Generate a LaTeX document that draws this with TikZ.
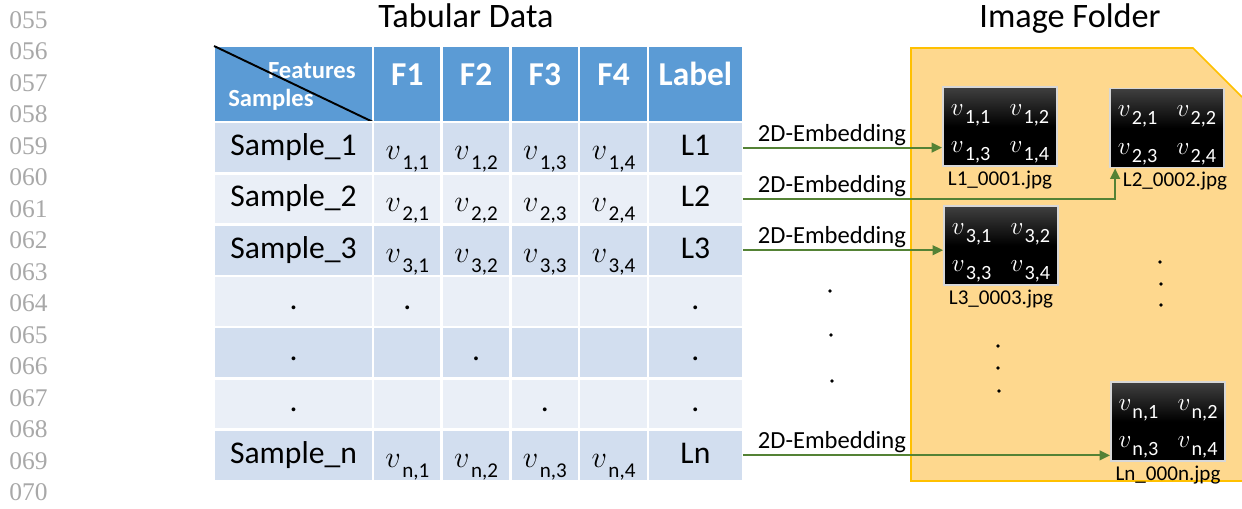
\documentclass[tikz,border=0pt]{standalone}
\usepackage{amsmath}
\usepackage{fontspec}
\setmainfont{Carlito}
\newfontfamily\lnfont{Liberation Serif}
\usetikzlibrary{arrows.meta,positioning,calc}

\definecolor{hdblue}{RGB}{91,155,213}
\definecolor{rowdk}{RGB}{210,222,239}
\definecolor{rowlt}{RGB}{234,239,247}
\definecolor{fold}{RGB}{254,216,142}
\definecolor{foldedge}{RGB}{255,192,0}
\definecolor{arrgreen}{RGB}{84,130,53}
\definecolor{boxedge}{RGB}{215,215,215}
\definecolor{lngray}{RGB}{168,168,168}

% table value: italic v, text-size index hanging below
\newcommand{\vv}[1]{\raisebox{-2.5pt}{{\fontsize{16}{18}\selectfont$v$}\hspace{0.8pt}\raisebox{-5.5pt}{\fontsize{12}{13}\selectfont #1}}}
% image value
\newcommand{\vb}[1]{$v$\hspace{0.6pt}\raisebox{-4.5pt}{\fontsize{11.5}{13}\selectfont #1}}
\newcommand{\pixvals}[4]{\begin{tabular}{@{}l@{\hspace{11pt}}l@{}}\vb{#1} & \vb{#2}\\ \vb{#3} & \vb{#4}\end{tabular}}

\begin{document}
\begin{tikzpicture}[
  x=0.02cm, y=-0.02cm,
  cell/.style={draw=white, line width=1.4pt, outer sep=0pt, inner sep=0pt, minimum height=1.026cm},
  hcell/.style={cell, fill=hdblue, minimum height=1.52cm, text=white, font=\bfseries\fontsize{19}{22}\selectfont, text height=12pt, text depth=9.8pt},
  dk/.style={cell, fill=rowdk},
  lt/.style={cell, fill=rowlt},
  wcol/.style={minimum width=3.18cm},
  fcol/.style={minimum width=1.375cm},
  lcol/.style={minimum width=1.9cm},
  smp/.style={font=\fontsize{18}{20}\selectfont, text height=13pt, text depth=4pt},
  hsmall/.style={inner sep=0pt, text=white, font=\bfseries\fontsize{14}{16}\selectfont},
  ttl/.style={anchor=base, inner sep=0pt, font=\fontsize{19.5}{22}\selectfont},
  lnum/.style={anchor=west, inner sep=0pt, text=lngray, font=\lnfont\fontsize{14.5}{16}\selectfont},
  imgbox/.style={draw=boxedge, line width=1pt, top color=black!75, bottom color=black, middle color=black, text=white, minimum width=2.28cm, minimum height=1.58cm, inner sep=0pt, font=\fontsize{15.5}{21.5}\selectfont},
  fname/.style={inner sep=1pt, font=\fontsize{12}{14}\selectfont},
  emb/.style={pos=0, anchor=base west, inner sep=0pt, xshift=0.28cm, yshift=0.13cm, font=\fontsize{14}{16}\selectfont},
  dotc/.style={circle, fill=black, inner sep=0pt, minimum size=2.2pt},
  arr/.style={-{Triangle[length=6pt,width=5.5pt]}, line width=1.2pt, draw=arrgreen}
]
\useasboundingbox (0,0) rectangle (1242,509);

% line numbers
\node[lnum] (n055) at (9,20) {055};
\node[lnum] (n056) at (9,51.5) {056};
\node[lnum] (n057) at (9,83) {057};
\node[lnum] (n058) at (9,114.5) {058};
\node[lnum] (n059) at (9,146) {059};
\node[lnum] (n060) at (9,177.5) {060};
\node[lnum] (n061) at (9,209) {061};
\node[lnum] (n062) at (9,240.5) {062};
\node[lnum] (n063) at (9,272) {063};
\node[lnum] (n064) at (9,303.5) {064};
\node[lnum] (n065) at (9,335) {065};
\node[lnum] (n066) at (9,366.5) {066};
\node[lnum] (n067) at (9,398) {067};
\node[lnum] (n068) at (9,429.5) {068};
\node[lnum] (n069) at (9,461) {069};
\node[lnum] (n070) at (9,492.5) {070};

% titles
\node[ttl] (ttab) at (466,27.5) {Tabular Data};
\node[ttl] (tfold) at (1070,27.5) {Image Folder};

% image folder
\fill[fold] (911,48) -- (1193,48) -- (1242,97) -- (1242,481) -- (911,481) -- cycle;
\draw[foldedge, line width=0.9pt] (1242,481) -- (911,481) -- (911,48) -- (1193,48) -- (1242,97);

% table header
\node[hcell, wcol] (h0) at (293.5,84) {};
\node[hcell, fcol, right=0pt of h0] (hf1) {F1};
\node[hcell, fcol, right=0pt of hf1] (hf2) {F2};
\node[hcell, fcol, right=0pt of hf2] (hf3) {F3};
\node[hcell, fcol, right=0pt of hf3] (hf4) {F4};
\node[hcell, lcol, right=0pt of hf4] (hlab) {Label};
\node[hsmall, anchor=base east] (tfeat) at (356,79) {Features};
\node[hsmall, anchor=base west] (tsmp) at (228,107) {Samples};
\draw[line width=1.1pt] (h0.north west) -- (h0.south east);

% rows
\node[dk, wcol, smp, below=0pt of h0] (s1) {Sample\_1};
\node[dk, fcol, smp, right=0pt of s1] (v11) {\vv{1,1}};
\node[dk, fcol, smp, right=0pt of v11] (v12) {\vv{1,2}};
\node[dk, fcol, smp, right=0pt of v12] (v13) {\vv{1,3}};
\node[dk, fcol, smp, right=0pt of v13] (v14) {\vv{1,4}};
\node[dk, lcol, smp, right=0pt of v14] (l1) {L1};

\node[lt, wcol, smp, below=0pt of s1] (s2) {Sample\_2};
\node[lt, fcol, smp, right=0pt of s2] (v21) {\vv{2,1}};
\node[lt, fcol, smp, right=0pt of v21] (v22) {\vv{2,2}};
\node[lt, fcol, smp, right=0pt of v22] (v23) {\vv{2,3}};
\node[lt, fcol, smp, right=0pt of v23] (v24) {\vv{2,4}};
\node[lt, lcol, smp, right=0pt of v24] (l2) {L2};

\node[dk, wcol, smp, below=0pt of s2] (s3) {Sample\_3};
\node[dk, fcol, smp, right=0pt of s3] (v31) {\vv{3,1}};
\node[dk, fcol, smp, right=0pt of v31] (v32) {\vv{3,2}};
\node[dk, fcol, smp, right=0pt of v32] (v33) {\vv{3,3}};
\node[dk, fcol, smp, right=0pt of v33] (v34) {\vv{3,4}};
\node[dk, lcol, smp, right=0pt of v34] (l3) {L3};

\node[lt, wcol, smp, below=0pt of s3] (s4) {.};
\node[lt, fcol, smp, right=0pt of s4] (v41) {.};
\node[lt, fcol, smp, right=0pt of v41] (v42) {};
\node[lt, fcol, smp, right=0pt of v42] (v43) {};
\node[lt, fcol, smp, right=0pt of v43] (v44) {};
\node[lt, lcol, smp, right=0pt of v44] (l4) {.};

\node[dk, wcol, smp, below=0pt of s4] (s5) {.};
\node[dk, fcol, smp, right=0pt of s5] (v51) {};
\node[dk, fcol, smp, right=0pt of v51] (v52) {.};
\node[dk, fcol, smp, right=0pt of v52] (v53) {};
\node[dk, fcol, smp, right=0pt of v53] (v54) {};
\node[dk, lcol, smp, right=0pt of v54] (l5) {.};

\node[lt, wcol, smp, below=0pt of s5] (s6) {.};
\node[lt, fcol, smp, right=0pt of s6] (v61) {};
\node[lt, fcol, smp, right=0pt of v61] (v62) {};
\node[lt, fcol, smp, right=0pt of v62] (v63) {.};
\node[lt, fcol, smp, right=0pt of v63] (v64) {};
\node[lt, lcol, smp, right=0pt of v64] (l6) {.};

\node[dk, wcol, smp, below=0pt of s6] (sn) {Sample\_n};
\node[dk, fcol, smp, right=0pt of sn] (vn1) {\vv{n,1}};
\node[dk, fcol, smp, right=0pt of vn1] (vn2) {\vv{n,2}};
\node[dk, fcol, smp, right=0pt of vn2] (vn3) {\vv{n,3}};
\node[dk, fcol, smp, right=0pt of vn3] (vn4) {\vv{n,4}};
\node[dk, lcol, smp, right=0pt of vn4] (ln) {Ln};

% images
\node[imgbox] (img1) at (1000,126.5) {\pixvals{1,1}{1,2}{1,3}{1,4}};
\node[imgbox] (img2) at (1167,128) {\pixvals{2,1}{2,2}{2,3}{2,4}};
\node[imgbox] (img3) at (1001,245.5) {\pixvals{3,1}{3,2}{3,3}{3,4}};
\node[imgbox] (imgn) at (1168,421.5) {\pixvals{n,1}{n,2}{n,3}{n,4}};
\node[fname, below=1pt of img1] (c1) {L1\_0001.jpg};
\node[fname, below=1pt of img2, xshift=0.16cm] (c2) {L2\_0002.jpg};
\node[fname, below=1pt of img3] (c3) {L3\_0003.jpg};
\node[fname, below=1pt of imgn] (cn) {Ln\_000n.jpg};

% embeddings
\draw[arr] (l1.east) -- node[emb] {2D-Embedding} (img1.west |- l1.east);
\draw[arr] (l2.east) -| node[emb] {2D-Embedding} ([xshift=0.12cm]img2.south west);
\draw[arr] (l3.east) -- node[emb] {2D-Embedding} (img3.west |- l3.east);
\draw[arr] (ln.east) -- node[emb] {2D-Embedding} (imgn.west |- ln.east);

% dots
\node[dotc] (m1) at (830,291) {};
\node[dotc] (m2) at (831,335) {};
\node[dotc] (m3) at (832,381) {};
\node[dotc] (f1) at (998,346) {};
\node[dotc] (f2) at (998,368) {};
\node[dotc] (f3) at (999,391) {};
\node[dotc] (g1) at (1160,262) {};
\node[dotc] (g2) at (1161,284) {};
\node[dotc] (g3) at (1161,305) {};

\end{tikzpicture}
\end{document}
